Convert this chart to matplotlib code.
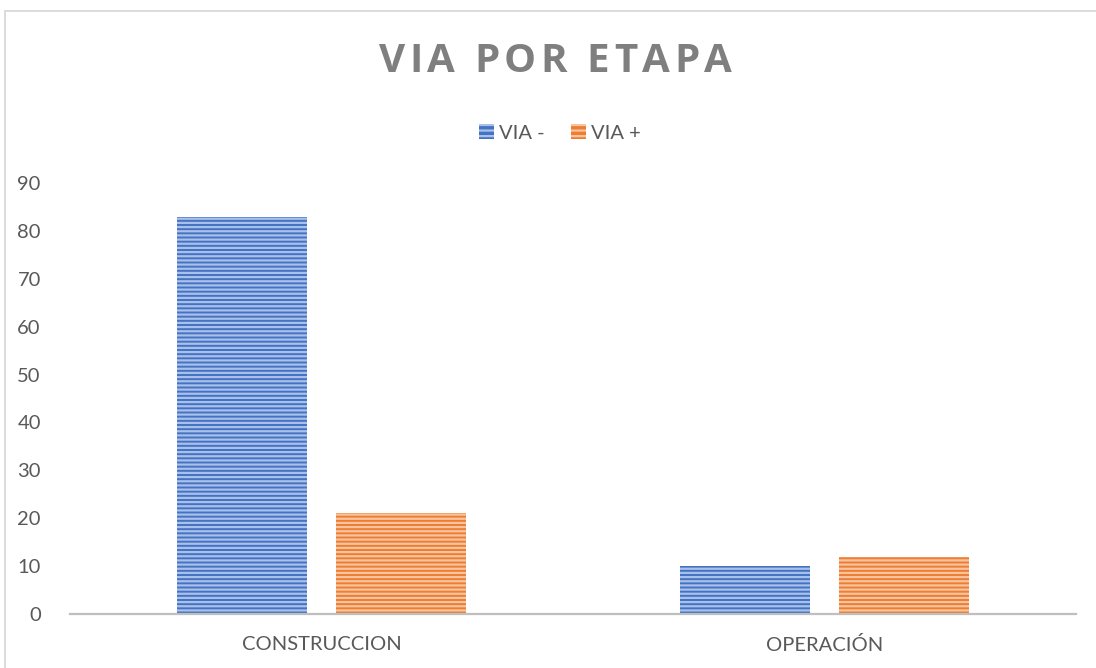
import matplotlib
matplotlib.use("Agg")
import matplotlib.pyplot as plt
from matplotlib.patches import Rectangle, Patch
import numpy as np

categories = ["CONSTRUCCION", "OPERACIÓN"]
series_names = ["VIA -", "VIA +"]
via_neg = [83, 10]
via_pos = [21, 12]
y_ticks = [0, 10, 20, 30, 40, 50, 60, 70, 80, 90]
title = "VIA POR ETAPA"

W, H = 1096, 668
fig = plt.figure(figsize=(W / 100, H / 100), dpi=100)
fig.patch.set_facecolor("white")

plt.rcParams["hatch.linewidth"] = 1.6

# chart frame
fig.patches.append(Rectangle((5 / W, -0.05), 1.2, (H - 11) / H + 0.05,
                             transform=fig.transFigure, fill=False,
                             edgecolor="#D9D9D9", linewidth=1.3))

ax = fig.add_axes([70 / W, (H - 614) / H, (1076 - 70) / W, (614 - 183) / H])
ax.set_xlim(0, 2)
ax.set_ylim(0, 90)

x = np.arange(len(categories)) + 0.5
bw = 0.26
off = 0.158
colors = [("#4472C4", "#A9C0E8"), ("#ED7D31", "#F8C4A0")]
for vals, (fc, hc), dx in zip([via_neg, via_pos], colors, [-off, off]):
    ax.bar(x + dx, vals, width=bw, color=fc, edgecolor=hc, hatch="----",
           linewidth=0, zorder=2)

for s in ["left", "right", "top"]:
    ax.spines[s].set_visible(False)
ax.spines["bottom"].set_color("#BFBFBF")
ax.spines["bottom"].set_linewidth(1.6)
ax.spines["bottom"].set_zorder(3)

ax.set_yticks(y_ticks)
ax.set_yticklabels([str(t) for t in y_ticks], fontsize=14.5, color="#595959",
                   family="Lato")
ax.set_xticks(x)
ax.set_xticklabels(categories, fontsize=14.5, color="#595959", family="Lato")
ax.tick_params(axis="both", length=0)
ax.tick_params(axis="y", pad=21)
ax.tick_params(axis="x", pad=16)

# letter-spaced title, drawn glyph by glyph
renderer = fig.canvas.get_renderer()
tprops = dict(fontsize=29, fontweight="bold", color="#7F7F7F", family="Open Sans")
tracking = 4.5


def glyph_width(ch):
    if ch == " ":
        a = fig.text(0, 0, "II", **tprops)
        b = fig.text(0, 0, "I I", **tprops)
        w = b.get_window_extent(renderer).width - a.get_window_extent(renderer).width
        a.remove()
        b.remove()
        return w
    t = fig.text(0, 0, ch, **tprops)
    w = t.get_window_extent(renderer).width
    t.remove()
    return w


widths = [glyph_width(c) for c in title]
total = sum(widths) + tracking * (len(title) - 1)
xpos = 555 - total / 2
for ch, w in zip(title, widths):
    if ch != " ":
        fig.text(xpos / W, 1 - 61 / H, ch, ha="left", va="center", **tprops)
    xpos += w + tracking

handles = [Patch(facecolor=c[0], edgecolor=c[1], hatch="---", linewidth=0)
           for c in colors]
fig.legend(handles, series_names, loc="center", bbox_to_anchor=(560 / W, 1 - 133 / H),
           ncol=2, frameon=False, handlelength=0.75, handleheight=0.75,
           handletextpad=0.25, columnspacing=1.3,
           prop={"family": "Lato", "size": 14.5}, labelcolor="#595959")

fig.savefig("out.png", dpi=100)
